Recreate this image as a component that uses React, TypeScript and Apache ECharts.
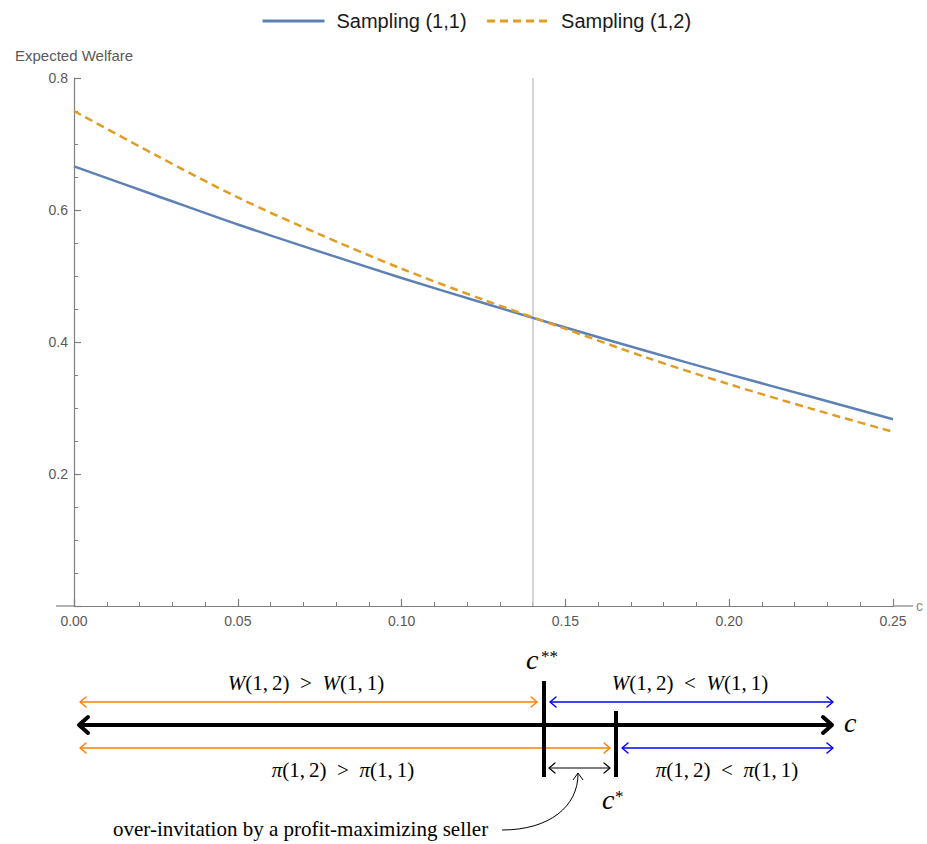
import React, { useEffect, useRef } from "react";
import * as echarts from "echarts";

// ---- data ----
const costs = [0, 0.025, 0.05, 0.075, 0.1, 0.125, 0.15, 0.175, 0.2, 0.225, 0.25];
const welfare11 = [0.666, 0.622, 0.578, 0.537, 0.497, 0.459, 0.422, 0.386, 0.351, 0.317, 0.283];
const welfare12 = [0.75, 0.683, 0.619, 0.563, 0.511, 0.464, 0.42, 0.376, 0.336, 0.299, 0.264];
const seriesNames = ["Sampling (1,1)", "Sampling (1,2)"];
const cStarStar = 1 / 7;

const SANS = '"Liberation Sans", Arial, Helvetica, sans-serif';
const SERIF = '"Liberation Serif", "Times New Roman", "DejaVu Serif", serif';
const GRID = { left: 74, right: 34, top: 78, bottom: 238 };
const W = 927;
const H = 844;
const AXIS_COLOR = "#7f7f7f";
const REL_SP = "\u2002";

function chevronL(x: number, y: number, d: number, h: number, color: string, lw: number) {
  return {
    type: "polyline",
    shape: { points: [[x + d, y - h], [x, y], [x + d, y + h]] },
    style: { stroke: color, lineWidth: lw, fill: null, lineJoin: "round", lineCap: "round" },
  };
}
function chevronR(x: number, y: number, d: number, h: number, color: string, lw: number) {
  return {
    type: "polyline",
    shape: { points: [[x - d, y - h], [x, y], [x - d, y + h]] },
    style: { stroke: color, lineWidth: lw, fill: null, lineJoin: "round", lineCap: "round" },
  };
}
function seg(x1: number, y1: number, x2: number, y2: number, color: string, lw: number) {
  return { type: "line", shape: { x1, y1, x2, y2 }, style: { stroke: color, lineWidth: lw } };
}
function dblArrow(x1: number, x2: number, y: number, color: string, lw: number, d: number, h: number) {
  return [seg(x1, y, x2, y, color, lw), chevronL(x1, y, d, h, color, lw), chevronR(x2, y, d, h, color, lw)];
}
function mathText(x: number, y: number, sym: string, rel: string) {
  return {
    type: "text",
    x,
    y,
    style: {
      text: `{i|${sym}}(1,\u20092)${REL_SP}${rel}${REL_SP}{i|${sym}}(1,\u20091)`,
      fontFamily: SERIF,
      fontSize: 21,
      fill: "#000",
      align: "center",
      verticalAlign: "middle",
      rich: {
        i: { fontFamily: SERIF, fontSize: 21, fontStyle: "italic", fill: "#000" },
      },
    },
  };
}
function plainText(x: number, y: number, text: string, size: number, italic: boolean, align = "left") {
  return {
    type: "text",
    x,
    y,
    style: {
      text,
      fontFamily: SERIF,
      fontSize: size,
      fontStyle: italic ? "italic" : "normal",
      fill: "#000",
      align,
      verticalAlign: "middle",
    },
  };
}

function buildDiagram() {
  const ORANGE = "#FF8000";
  const BLUE = "#0000FF";
  const els: any[] = [];
  const axisY0 = H - GRID.bottom;
  // axis-line extensions (Mathematica axes run slightly beyond the plot range)
  els.push(seg(56, axisY0, GRID.left, axisY0, AXIS_COLOR, 1.2));
  els.push(seg(W - GRID.right, axisY0, 913, axisY0, AXIS_COLOR, 1.2));

  // main c axis
  els.push(...dblArrow(79, 832, 725, "#000", 4, 9, 8));
  // welfare comparison arrows
  els.push(...dblArrow(80, 537, 702, ORANGE, 1.5, 6, 5));
  els.push(...dblArrow(550, 833, 702, BLUE, 1.5, 6, 5));
  // profit comparison arrows
  els.push(...dblArrow(80, 610, 748, ORANGE, 1.5, 6, 5));
  els.push(...dblArrow(622, 833, 748, BLUE, 1.5, 6, 5));
  // over-invitation gap
  els.push(...dblArrow(549, 610, 768, "#000", 1.2, 6, 5));
  // thresholds
  els.push(seg(544, 681, 544, 777, "#000", 4));
  els.push(seg(616, 711, 616, 777, "#000", 4));
  // curved pointer
  els.push({
    type: "bezierCurve",
    shape: { x1: 502, y1: 830, cpx1: 550, cpy1: 830, cpx2: 578, cpy2: 806, x2: 578, y2: 774 },
    style: { stroke: "#000", lineWidth: 1, fill: null },
  });
  els.push({
    type: "polyline",
    shape: { points: [[573, 780], [578, 773], [583, 780]] },
    style: { stroke: "#000", lineWidth: 1, fill: null },
  });
  // texts
  els.push(mathText(306, 683, "W", ">"));
  els.push(mathText(690, 683, "W", "<"));
  els.push(mathText(343, 770, "π", ">"));
  els.push(mathText(727, 770, "π", "<"));
  els.push(plainText(526, 659, "c", 28, true));
  els.push(plainText(541, 656, "**", 17, false));
  els.push(plainText(602, 799, "c", 28, true));
  els.push(plainText(615, 796, "*", 17, false));
  els.push(plainText(844, 722, "c", 28, true));
  els.push(plainText(113, 829, "over-invitation by a profit-maximizing seller", 21, false));
  return els;
}

export default function App() {
  const ref = useRef<HTMLDivElement>(null);
  useEffect(() => {
    if (!ref.current) return;
    const chart = echarts.init(ref.current, null, { renderer: "svg" });
    const axisText = { color: "#595959", fontSize: 14, fontFamily: SANS };
    chart.setOption({
      animation: false,
      backgroundColor: "#ffffff",
      textStyle: { fontFamily: SANS },
      legend: {
        top: 6,
        left: 256,
        itemWidth: 62,
        itemHeight: 14,
        itemGap: 19,
        itemStyle: { opacity: 0 },
        lineStyle: { width: 3 },
        textStyle: { fontSize: 20, color: "#1a1a1a", fontFamily: SANS, padding: [0, 0, 0, 7] },
        data: seriesNames,
      },
      grid: {
        left: GRID.left,
        right: GRID.right,
        top: GRID.top,
        bottom: GRID.bottom,
        outerBoundsMode: "none",
        containLabel: false,
      },
      xAxis: {
        type: "value",
        min: 0,
        max: 0.25,
        interval: 0.05,
        name: "c",
        nameLocation: "end",
        nameGap: 23,
        nameTextStyle: { color: "#8a8a8a", fontSize: 14, fontFamily: SANS },
        axisLine: { lineStyle: { color: AXIS_COLOR, width: 1.2 } },
        axisTick: { inside: true, length: 7, lineStyle: { color: AXIS_COLOR, width: 1.2 } },
        minorTick: { show: true, splitNumber: 5, length: 4, lineStyle: { color: AXIS_COLOR, width: 1 } },
        axisLabel: { ...axisText, margin: 8, formatter: (v: number) => v.toFixed(2) },
        splitLine: { show: false },
      },
      yAxis: {
        type: "value",
        min: 0,
        max: 0.8,
        interval: 0.2,
        name: "Expected Welfare",
        nameLocation: "end",
        nameGap: 15,
        nameTextStyle: { color: "#595959", fontSize: 15, fontFamily: SANS, align: "center" },
        axisLine: { show: true, lineStyle: { color: AXIS_COLOR, width: 1.2 } },
        axisTick: { show: true, inside: true, length: 7, lineStyle: { color: AXIS_COLOR, width: 1.2 } },
        minorTick: { show: true, splitNumber: 4, length: 4, lineStyle: { color: AXIS_COLOR, width: 1 } },
        axisLabel: { ...axisText, margin: 6, formatter: (v: number) => (v === 0 ? "" : v.toFixed(1)) },
        splitLine: { show: false },
      },
      series: [
        {
          name: seriesNames[0],
          type: "line",
          data: costs.map((c, i) => [c, welfare11[i]]),
          smooth: 0.3,
          showSymbol: false,
          symbol: "none",
          lineStyle: { color: "#5E81B5", width: 2.5 },
          itemStyle: { color: "#5E81B5" },
          z: 3,
          markLine: {
            silent: true,
            symbol: "none",
            label: { show: false },
            lineStyle: { color: "#c8c8c8", width: 1.5, type: "solid" },
            data: [{ xAxis: cStarStar }],
            z: 1,
          },
        },
        {
          name: seriesNames[1],
          type: "line",
          data: costs.map((c, i) => [c, welfare12[i]]),
          smooth: 0.3,
          showSymbol: false,
          symbol: "none",
          lineStyle: { color: "#E19C24", width: 2.5, type: [8, 5] },
          itemStyle: { color: "#E19C24" },
          z: 4,
        },
      ],
      graphic: buildDiagram(),
    });
    return () => chart.dispose();
  }, []);
  return (
    <div
      ref={ref}
      style={{ position: "fixed", left: 0, top: 0, width: W, height: H, background: "#fff" }}
    />
  );
}
